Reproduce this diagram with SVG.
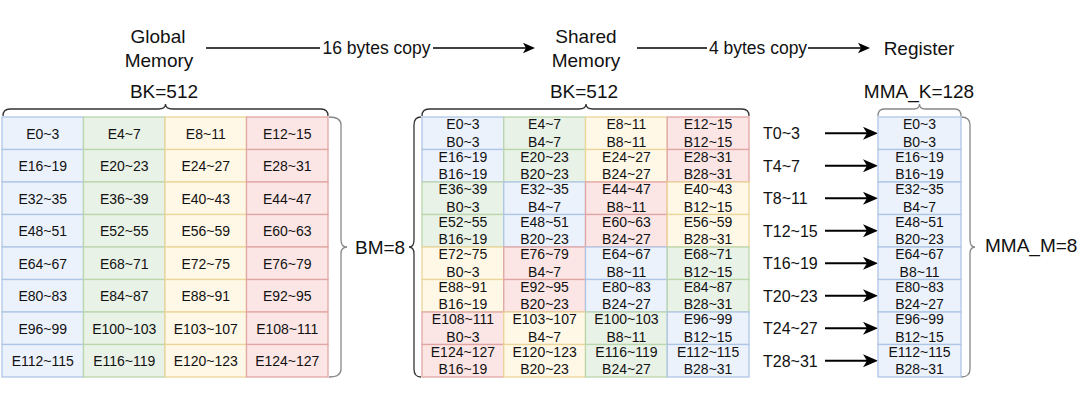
<svg xmlns="http://www.w3.org/2000/svg" width="1080" height="402" viewBox="0 0 1080 402">
<defs>
<style>
text{font-family:"Liberation Sans",Arial,Helvetica,sans-serif;fill:#111;}
.t{font-size:19px;text-anchor:middle;}
.lbl{font-size:17.5px;text-anchor:middle;}
.tl{font-size:16px;}
.c{font-size:14px;text-anchor:middle;}
.b{fill:#ECF2FC;stroke:#AFC5E5;stroke-width:1.3;}
.g{fill:#E9F2E7;stroke:#BAD6AC;stroke-width:1.3;}
.y{fill:#FFF8E6;stroke:#EBD59A;stroke-width:1.3;}
.r{fill:#FBE6E5;stroke:#E0A6A4;stroke-width:1.3;}
.brd{fill:none;stroke:#333;stroke-width:1.3;}
.brg{fill:none;stroke:#888;stroke-width:1.3;}
.ln{fill:none;stroke:#000;stroke-width:1.4;}
.ln2{fill:none;stroke:#000;stroke-width:2;}
</style>
<marker id="ah" markerUnits="userSpaceOnUse" markerWidth="13" markerHeight="11" refX="3" refY="5.25" orient="auto">
<path d="M0,0 L12,5.25 L0,10.5 L3,5.25 z" fill="#000"/>
</marker>
<marker id="ah2" markerUnits="userSpaceOnUse" markerWidth="16" markerHeight="14" refX="4" refY="6.5" orient="auto">
<path d="M0,0 L15,6.5 L0,13 L4,6.5 z" fill="#000"/>
</marker>
</defs>

<g id="titles">
<text class="t" x="158" y="43">Global</text>
<text class="t" x="159" y="67">Memory</text>
<text class="t" x="586" y="43">Shared</text>
<text class="t" x="586" y="67">Memory</text>
<text class="t" x="919" y="55">Register</text>
<text class="t" x="164" y="98">BK=512</text>
<text class="t" x="584" y="98">BK=512</text>
<text class="t" x="919" y="98">MMA_K=128</text>
<text x="355" y="254" style="font-size:19px">BM=8</text>
<text x="985" y="252" style="font-size:19px">MMA_M=8</text>
</g>

<g id="connectors">
<line class="ln" x1="206" y1="48" x2="320" y2="48"/>
<text class="lbl" x="376.5" y="54">16 bytes copy</text>
<line class="ln" x1="433" y1="48" x2="526" y2="48" marker-end="url(#ah)"/>
<line class="ln" x1="637" y1="48" x2="707" y2="48"/>
<text class="lbl" x="758" y="54">4 bytes copy</text>
<line class="ln" x1="808" y1="48" x2="861" y2="48" marker-end="url(#ah)"/>
<g id="t-arrows">
<line class="ln2" x1="825" y1="133.3" x2="867" y2="133.3" marker-end="url(#ah2)"/>
<line class="ln2" x1="825" y1="165.8" x2="867" y2="165.8" marker-end="url(#ah2)"/>
<line class="ln2" x1="825" y1="198.3" x2="867" y2="198.3" marker-end="url(#ah2)"/>
<line class="ln2" x1="825" y1="230.8" x2="867" y2="230.8" marker-end="url(#ah2)"/>
<line class="ln2" x1="825" y1="263.3" x2="867" y2="263.3" marker-end="url(#ah2)"/>
<line class="ln2" x1="825" y1="295.8" x2="867" y2="295.8" marker-end="url(#ah2)"/>
<line class="ln2" x1="825" y1="328.3" x2="867" y2="328.3" marker-end="url(#ah2)"/>
<line class="ln2" x1="825" y1="360.8" x2="867" y2="360.8" marker-end="url(#ah2)"/>
</g>
</g>

<g id="t-labels">
<text class="tl" x="763" y="139">T0~3</text>
<text class="tl" x="763" y="171.5">T4~7</text>
<text class="tl" x="763" y="204">T8~11</text>
<text class="tl" x="763" y="236.5">T12~15</text>
<text class="tl" x="763" y="269">T16~19</text>
<text class="tl" x="763" y="301.5">T20~23</text>
<text class="tl" x="763" y="334">T24~27</text>
<text class="tl" x="763" y="366.5">T28~31</text>
</g>

<g id="braces">
<path class="brd" d="M3,116 Q3,109 10,109 L158.5,109 Q165.5,109 165.5,104 Q165.5,109 172.5,109 L321,109 Q328,109 328,116"/>
<path class="brd" d="M422,116 Q422,109 429,109 L579,109 Q586,109 586,104 Q586,109 593,109 L742,109 Q749,109 749,116"/>
<path class="brg" d="M878,116 Q878,109 884,109 L914,109 Q919.5,109 919.5,104 Q919.5,109 925,109 L955,109 Q961,109 961,116"/>
<path class="brg" d="M329,117 Q341,117 341,125 L341,240 Q341,247 347,247 Q341,247 341,254 L341,369 Q341,377 329,377"/>
<path class="brd" d="M421,117 Q414,117 414,125 L414,240 Q414,247 409,247 Q414,247 414,254 L414,369 Q414,377 421,377"/>
<path class="brg" d="M961,117 Q970,117 970,125 L970,240 Q970,247 975,247 Q970,247 970,254 L970,369 Q970,377 961,377"/>
</g>

<g id="global-grid">
<g class="b"><rect x="2" y="117" width="81.5" height="32.5"/><rect x="2" y="149.5" width="81.5" height="32.5"/><rect x="2" y="182" width="81.5" height="32.5"/><rect x="2" y="214.5" width="81.5" height="32.5"/><rect x="2" y="247" width="81.5" height="32.5"/><rect x="2" y="279.5" width="81.5" height="32.5"/><rect x="2" y="312" width="81.5" height="32.5"/><rect x="2" y="344.5" width="81.5" height="32.5"/></g>
<g class="g"><rect x="83.5" y="117" width="81.5" height="32.5"/><rect x="83.5" y="149.5" width="81.5" height="32.5"/><rect x="83.5" y="182" width="81.5" height="32.5"/><rect x="83.5" y="214.5" width="81.5" height="32.5"/><rect x="83.5" y="247" width="81.5" height="32.5"/><rect x="83.5" y="279.5" width="81.5" height="32.5"/><rect x="83.5" y="312" width="81.5" height="32.5"/><rect x="83.5" y="344.5" width="81.5" height="32.5"/></g>
<g class="y"><rect x="165" y="117" width="81.5" height="32.5"/><rect x="165" y="149.5" width="81.5" height="32.5"/><rect x="165" y="182" width="81.5" height="32.5"/><rect x="165" y="214.5" width="81.5" height="32.5"/><rect x="165" y="247" width="81.5" height="32.5"/><rect x="165" y="279.5" width="81.5" height="32.5"/><rect x="165" y="312" width="81.5" height="32.5"/><rect x="165" y="344.5" width="81.5" height="32.5"/></g>
<g class="r"><rect x="246.5" y="117" width="81.5" height="32.5"/><rect x="246.5" y="149.5" width="81.5" height="32.5"/><rect x="246.5" y="182" width="81.5" height="32.5"/><rect x="246.5" y="214.5" width="81.5" height="32.5"/><rect x="246.5" y="247" width="81.5" height="32.5"/><rect x="246.5" y="279.5" width="81.5" height="32.5"/><rect x="246.5" y="312" width="81.5" height="32.5"/><rect x="246.5" y="344.5" width="81.5" height="32.5"/></g>
<g class="c">
<text class="c" x="42.75" y="138.5">E0~3</text><text class="c" x="124.25" y="138.5">E4~7</text><text class="c" x="205.75" y="138.5">E8~11</text><text class="c" x="287.25" y="138.5">E12~15</text>
<text class="c" x="42.75" y="171">E16~19</text><text class="c" x="124.25" y="171">E20~23</text><text class="c" x="205.75" y="171">E24~27</text><text class="c" x="287.25" y="171">E28~31</text>
<text class="c" x="42.75" y="203.5">E32~35</text><text class="c" x="124.25" y="203.5">E36~39</text><text class="c" x="205.75" y="203.5">E40~43</text><text class="c" x="287.25" y="203.5">E44~47</text>
<text class="c" x="42.75" y="236">E48~51</text><text class="c" x="124.25" y="236">E52~55</text><text class="c" x="205.75" y="236">E56~59</text><text class="c" x="287.25" y="236">E60~63</text>
<text class="c" x="42.75" y="268.5">E64~67</text><text class="c" x="124.25" y="268.5">E68~71</text><text class="c" x="205.75" y="268.5">E72~75</text><text class="c" x="287.25" y="268.5">E76~79</text>
<text class="c" x="42.75" y="301">E80~83</text><text class="c" x="124.25" y="301">E84~87</text><text class="c" x="205.75" y="301">E88~91</text><text class="c" x="287.25" y="301">E92~95</text>
<text class="c" x="42.75" y="333.5">E96~99</text><text class="c" x="124.25" y="333.5">E100~103</text><text class="c" x="205.75" y="333.5">E103~107</text><text class="c" x="287.25" y="333.5">E108~111</text>
<text class="c" x="42.75" y="366">E112~115</text><text class="c" x="124.25" y="366">E116~119</text><text class="c" x="205.75" y="366">E120~123</text><text class="c" x="287.25" y="366">E124~127</text>
</g>
</g>

<g id="shared-grid">
<rect class="b" x="422" y="117" width="81.75" height="32.5"/><rect class="g" x="503.75" y="117" width="81.75" height="32.5"/><rect class="y" x="585.5" y="117" width="81.75" height="32.5"/><rect class="r" x="667.25" y="117" width="81.75" height="32.5"/>
<rect class="b" x="422" y="149.5" width="81.75" height="32.5"/><rect class="g" x="503.75" y="149.5" width="81.75" height="32.5"/><rect class="y" x="585.5" y="149.5" width="81.75" height="32.5"/><rect class="r" x="667.25" y="149.5" width="81.75" height="32.5"/>
<rect class="g" x="422" y="182" width="81.75" height="32.5"/><rect class="b" x="503.75" y="182" width="81.75" height="32.5"/><rect class="r" x="585.5" y="182" width="81.75" height="32.5"/><rect class="y" x="667.25" y="182" width="81.75" height="32.5"/>
<rect class="g" x="422" y="214.5" width="81.75" height="32.5"/><rect class="b" x="503.75" y="214.5" width="81.75" height="32.5"/><rect class="r" x="585.5" y="214.5" width="81.75" height="32.5"/><rect class="y" x="667.25" y="214.5" width="81.75" height="32.5"/>
<rect class="y" x="422" y="247" width="81.75" height="32.5"/><rect class="r" x="503.75" y="247" width="81.75" height="32.5"/><rect class="b" x="585.5" y="247" width="81.75" height="32.5"/><rect class="g" x="667.25" y="247" width="81.75" height="32.5"/>
<rect class="y" x="422" y="279.5" width="81.75" height="32.5"/><rect class="r" x="503.75" y="279.5" width="81.75" height="32.5"/><rect class="b" x="585.5" y="279.5" width="81.75" height="32.5"/><rect class="g" x="667.25" y="279.5" width="81.75" height="32.5"/>
<rect class="r" x="422" y="312" width="81.75" height="32.5"/><rect class="y" x="503.75" y="312" width="81.75" height="32.5"/><rect class="g" x="585.5" y="312" width="81.75" height="32.5"/><rect class="b" x="667.25" y="312" width="81.75" height="32.5"/>
<rect class="r" x="422" y="344.5" width="81.75" height="32.5"/><rect class="y" x="503.75" y="344.5" width="81.75" height="32.5"/><rect class="g" x="585.5" y="344.5" width="81.75" height="32.5"/><rect class="b" x="667.25" y="344.5" width="81.75" height="32.5"/>

<text class="c" x="462.9" y="129">E0~3</text><text class="c" x="462.9" y="146.5">B0~3</text>
<text class="c" x="544.6" y="129">E4~7</text><text class="c" x="544.6" y="146.5">B4~7</text>
<text class="c" x="626.4" y="129">E8~11</text><text class="c" x="626.4" y="146.5">B8~11</text>
<text class="c" x="708.1" y="129">E12~15</text><text class="c" x="708.1" y="146.5">B12~15</text>

<text class="c" x="462.9" y="161.5">E16~19</text><text class="c" x="462.9" y="179">B16~19</text>
<text class="c" x="544.6" y="161.5">E20~23</text><text class="c" x="544.6" y="179">B20~23</text>
<text class="c" x="626.4" y="161.5">E24~27</text><text class="c" x="626.4" y="179">B24~27</text>
<text class="c" x="708.1" y="161.5">E28~31</text><text class="c" x="708.1" y="179">B28~31</text>

<text class="c" x="462.9" y="194">E36~39</text><text class="c" x="462.9" y="211.5">B0~3</text>
<text class="c" x="544.6" y="194">E32~35</text><text class="c" x="544.6" y="211.5">B4~7</text>
<text class="c" x="626.4" y="194">E44~47</text><text class="c" x="626.4" y="211.5">B8~11</text>
<text class="c" x="708.1" y="194">E40~43</text><text class="c" x="708.1" y="211.5">B12~15</text>

<text class="c" x="462.9" y="226.5">E52~55</text><text class="c" x="462.9" y="244">B16~19</text>
<text class="c" x="544.6" y="226.5">E48~51</text><text class="c" x="544.6" y="244">B20~23</text>
<text class="c" x="626.4" y="226.5">E60~63</text><text class="c" x="626.4" y="244">B24~27</text>
<text class="c" x="708.1" y="226.5">E56~59</text><text class="c" x="708.1" y="244">B28~31</text>

<text class="c" x="462.9" y="259">E72~75</text><text class="c" x="462.9" y="276.5">B0~3</text>
<text class="c" x="544.6" y="259">E76~79</text><text class="c" x="544.6" y="276.5">B4~7</text>
<text class="c" x="626.4" y="259">E64~67</text><text class="c" x="626.4" y="276.5">B8~11</text>
<text class="c" x="708.1" y="259">E68~71</text><text class="c" x="708.1" y="276.5">B12~15</text>

<text class="c" x="462.9" y="291.5">E88~91</text><text class="c" x="462.9" y="309">B16~19</text>
<text class="c" x="544.6" y="291.5">E92~95</text><text class="c" x="544.6" y="309">B20~23</text>
<text class="c" x="626.4" y="291.5">E80~83</text><text class="c" x="626.4" y="309">B24~27</text>
<text class="c" x="708.1" y="291.5">E84~87</text><text class="c" x="708.1" y="309">B28~31</text>

<text class="c" x="462.9" y="324">E108~111</text><text class="c" x="462.9" y="341.5">B0~3</text>
<text class="c" x="544.6" y="324">E103~107</text><text class="c" x="544.6" y="341.5">B4~7</text>
<text class="c" x="626.4" y="324">E100~103</text><text class="c" x="626.4" y="341.5">B8~11</text>
<text class="c" x="708.1" y="324">E96~99</text><text class="c" x="708.1" y="341.5">B12~15</text>

<text class="c" x="462.9" y="356.5">E124~127</text><text class="c" x="462.9" y="374">B16~19</text>
<text class="c" x="544.6" y="356.5">E120~123</text><text class="c" x="544.6" y="374">B20~23</text>
<text class="c" x="626.4" y="356.5">E116~119</text><text class="c" x="626.4" y="374">B24~27</text>
<text class="c" x="708.1" y="356.5">E112~115</text><text class="c" x="708.1" y="374">B28~31</text>
</g>

<g id="register-column">
<rect class="b" x="878" y="117" width="83" height="32.5"/>
<rect class="b" x="878" y="149.5" width="83" height="32.5"/>
<rect class="b" x="878" y="182" width="83" height="32.5"/>
<rect class="b" x="878" y="214.5" width="83" height="32.5"/>
<rect class="b" x="878" y="247" width="83" height="32.5"/>
<rect class="b" x="878" y="279.5" width="83" height="32.5"/>
<rect class="b" x="878" y="312" width="83" height="32.5"/>
<rect class="b" x="878" y="344.5" width="83" height="32.5"/>
<text class="c" x="919.5" y="129">E0~3</text><text class="c" x="919.5" y="146.5">B0~3</text>
<text class="c" x="919.5" y="161.5">E16~19</text><text class="c" x="919.5" y="179">B16~19</text>
<text class="c" x="919.5" y="194">E32~35</text><text class="c" x="919.5" y="211.5">B4~7</text>
<text class="c" x="919.5" y="226.5">E48~51</text><text class="c" x="919.5" y="244">B20~23</text>
<text class="c" x="919.5" y="259">E64~67</text><text class="c" x="919.5" y="276.5">B8~11</text>
<text class="c" x="919.5" y="291.5">E80~83</text><text class="c" x="919.5" y="309">B24~27</text>
<text class="c" x="919.5" y="324">E96~99</text><text class="c" x="919.5" y="341.5">B12~15</text>
<text class="c" x="919.5" y="356.5">E112~115</text><text class="c" x="919.5" y="374">B28~31</text>
</g>
</svg>
